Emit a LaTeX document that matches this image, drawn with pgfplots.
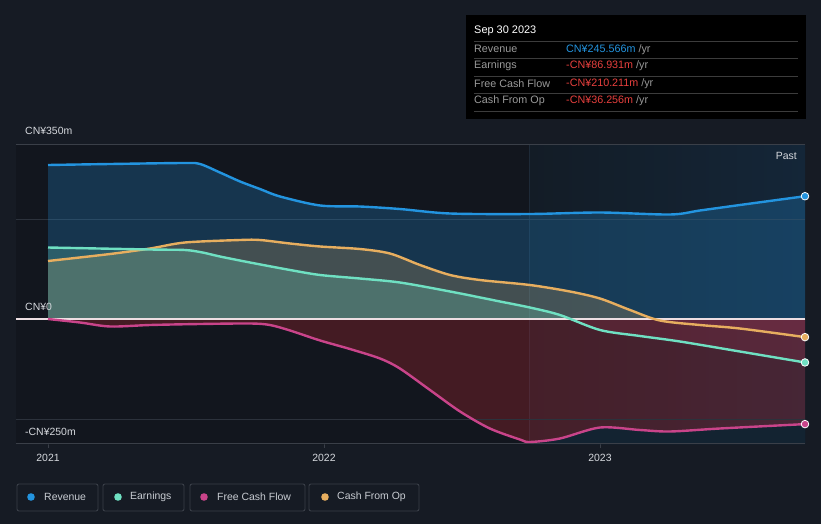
\documentclass[border=0pt]{standalone}
\usepackage{pgfplots}
\pgfplotsset{compat=1.18}
\usepackage{fontspec}
\setmainfont{Liberation Sans}

\definecolor{bg}{HTML}{161B24}
\definecolor{plotbg}{HTML}{12161E}
\definecolor{pastL}{HTML}{131C26}
\definecolor{pastR}{HTML}{142638}
\definecolor{pastM}{HTML}{132331}
\definecolor{pastline}{HTML}{1E2A38}
\definecolor{rev}{HTML}{2394DF}
\definecolor{ear}{HTML}{6FE0C2}
\definecolor{fcf}{HTML}{C9448A}
\definecolor{cfo}{HTML}{E7AE5F}
\definecolor{neg}{HTML}{C82832}
\definecolor{negp}{HTML}{D0406A}
\definecolor{gridc}{HTML}{2C323C}
\definecolor{axline}{HTML}{3A3F48}
\definecolor{lbl}{HTML}{D6D9DE}
\definecolor{tipgrey}{HTML}{9A9A9A}
\definecolor{tipred}{HTML}{E8403E}
\definecolor{tipline}{HTML}{3C3C3C}
\definecolor{legtext}{HTML}{C8CCD2}
\definecolor{zeroline}{HTML}{ECDEE2}

\pgfplotstableread{
x y
2021.000 308
2021.225 310
2021.496 312
2021.551 310
2021.623 293
2021.696 275
2021.768 260
2021.841 245
2021.986 227
2022.130 225
2022.275 220
2022.457 211
2022.746 210
2023.000 213
2023.254 209
2023.362 217
2023.507 228
2023.743 245.566
}\revtab

\pgfplotstableread{
x y
2021.000 143
2021.370 139
2021.496 138
2021.560 133
2021.623 125
2021.732 113
2021.877 98
2021.986 88
2022.130 81
2022.275 73
2022.457 55
2022.638 35
2022.746 23
2022.855 8
2023.000 -22
2023.145 -34
2023.290 -45
2023.507 -65
2023.743 -86.931
}\eartab

\pgfplotstableread{
x y
2021.000 116
2021.225 130
2021.370 141
2021.496 153
2021.696 158
2021.768 158
2021.877 151
2021.986 145
2022.130 140
2022.239 131
2022.348 108
2022.457 88
2022.565 78
2022.746 68
2022.891 55
2023.000 41
2023.109 18
2023.217 -3
2023.362 -12
2023.507 -19
2023.743 -36.256
}\cfotab

\pgfplotstableread{
x y
2021.000 0
2021.116 -7
2021.225 -15
2021.370 -12
2021.551 -10
2021.732 -9
2021.804 -12
2021.877 -23
2021.986 -43
2022.094 -60
2022.203 -79
2022.275 -99
2022.384 -142
2022.493 -185
2022.601 -219
2022.710 -241
2022.746 -246
2022.855 -239
2023.000 -217
2023.145 -222
2023.254 -225
2023.435 -219
2023.743 -210.211
}\fcftab

\begin{document}
\begin{tikzpicture}
\fill[bg] (0bp,0bp) rectangle (821bp,524bp);
\begin{axis}[
  at={(16bp,80bp)}, anchor=south west,
  scale only axis, width=789bp, height=300bp,
  xmin=2020.884, xmax=2023.743, ymin=-250, ymax=350,
  axis line style={draw=none},
  axis background/.style={fill=plotbg},
  ytick=\empty,
  xtick={2021,2022,2023}, xticklabels={2021,2022,2023},
  tick pos=bottom, tick align=outside, major tick length=4bp,
  tick style={axline, line width=0.8bp},
  xticklabel style={font=\fontsize{10.5}{12}\selectfont, text=lbl, yshift=-2.5bp},
  clip=false,
]
% past region
\fill[left color=pastL, right color=pastR] (axis cs:2022.746,-250) rectangle (axis cs:2023.743,350);
\draw[pastline, line width=0.8bp] (axis cs:2022.746,-250) -- (axis cs:2022.746,350);
% grid (upper)
\draw[gridc, line width=0.9bp] (axis cs:2020.884,200) -- (axis cs:2023.743,200);
\draw[axline, line width=1bp] (axis cs:2020.884,350) -- (axis cs:2023.743,350);

% revenue (all positive) and free cash flow (all negative): filled to zero
\addplot[fill=rev, fill opacity=0.25, draw=none, smooth] table[x=x,y=y] {\revtab} -- (axis cs:2023.743,0) -- (axis cs:2021,0) -- cycle;
\addplot[fill=neg, fill opacity=0.28, draw=none, smooth] table[x=x,y=y] {\fcftab} -- (axis cs:2023.743,0) -- cycle;
% earnings and cash from op: positive part
\begin{scope}
\clip (axis cs:2020.884,0) rectangle (axis cs:2023.743,350);
\addplot[fill=cfo, fill opacity=0.22, draw=none, smooth] table[x=x,y=y] {\cfotab} -- (axis cs:2023.743,0) -- (axis cs:2021,0) -- cycle;
\addplot[fill=ear, fill opacity=0.24, draw=none, smooth] table[x=x,y=y] {\eartab} -- (axis cs:2023.743,0) -- (axis cs:2021,0) -- cycle;
\end{scope}
% earnings and cash from op: negative part
\begin{scope}
\clip (axis cs:2020.884,-250) rectangle (axis cs:2023.743,0);
\addplot[fill=negp, fill opacity=0.13, draw=none, smooth] table[x=x,y=y] {\eartab} -- (axis cs:2023.743,0) -- (axis cs:2021,0) -- cycle;
\addplot[fill=negp, fill opacity=0.13, draw=none, smooth] table[x=x,y=y] {\cfotab} -- (axis cs:2023.743,0) -- (axis cs:2021,0) -- cycle;
\end{scope}
% keep the area below the free cash flow curve unfilled
\begin{scope}
\clip (axis cs:2020.884,-251) rectangle (axis cs:2022.746,0);
\addplot[fill=plotbg, draw=none, smooth] table[x=x,y=y] {\fcftab} -- (axis cs:2023.743,-251) -- (axis cs:2021,-251) -- cycle;
\end{scope}
\begin{scope}
\clip (axis cs:2022.750,-251) rectangle (axis cs:2023.743,0);
\addplot[fill=pastM, draw=none, smooth] table[x=x,y=y] {\fcftab} -- (axis cs:2023.743,-251) -- (axis cs:2021,-251) -- cycle;
\end{scope}
\fill[plotbg] (axis cs:2020.884,-251) rectangle (axis cs:2021,0);
% grid (lower)
\draw[gridc, line width=0.9bp] (axis cs:2020.884,-200) -- (axis cs:2023.743,-200);
\draw[axline, line width=1bp] (axis cs:2020.884,-250) -- (axis cs:2023.743,-250);

\draw[zeroline, line width=1.3bp] (axis cs:2020.884,0) -- (axis cs:2023.743,0);

\addplot[rev, line width=2.4bp, smooth] table[x=x,y=y] {\revtab};
\addplot[cfo, line width=2.4bp, smooth] table[x=x,y=y] {\cfotab};
\addplot[ear, line width=2.4bp, smooth] table[x=x,y=y] {\eartab};
\addplot[fcf, line width=2.4bp, smooth] table[x=x,y=y] {\fcftab};

\addplot[only marks, mark=*, mark size=3.8bp, mark options={fill=rev, draw=white, line width=0.8bp}] coordinates {(2023.743,245.566)};
\addplot[only marks, mark=*, mark size=3.8bp, mark options={fill=cfo, draw=white, line width=0.8bp}] coordinates {(2023.743,-36.256)};
\addplot[only marks, mark=*, mark size=3.8bp, mark options={fill=ear, draw=white, line width=0.8bp}] coordinates {(2023.743,-86.931)};
\addplot[only marks, mark=*, mark size=3.8bp, mark options={fill=fcf, draw=white, line width=0.8bp}] coordinates {(2023.743,-210.211)};

\node[anchor=west, text=lbl, font=\fontsize{10.5}{12}\selectfont, inner sep=0pt] at ([xshift=9bp, yshift=13bp]axis cs:2020.884,350) {CN¥350m};
\node[anchor=west, text=lbl, font=\fontsize{10.5}{12}\selectfont, inner sep=0pt] at ([xshift=9bp, yshift=12bp]axis cs:2020.884,0) {CN¥0};
\node[anchor=west, text=lbl, font=\fontsize{10.5}{12}\selectfont, inner sep=0pt] at ([xshift=9bp, yshift=12bp]axis cs:2020.884,-250) {-CN¥250m};
\node[anchor=east, text=lbl, font=\fontsize{10.5}{12}\selectfont, inner sep=0pt] at ([xshift=-8bp, yshift=-12bp]axis cs:2023.743,350) {Past};
\end{axis}

% tooltip
\fill[black] (466bp,405bp) rectangle (806bp,509bp);
\foreach \yy in {483,466,448,431,413} {\draw[tipline, line width=0.8bp] (474bp,\yy bp) -- (798bp,\yy bp);}
\node[anchor=west, inner sep=0pt, text=white, font=\fontsize{11}{13}\selectfont] at (474bp,493.3bp) {Sep 30 2023};
\begin{scope}[every node/.style={anchor=west, inner sep=0pt, font=\fontsize{10.8}{13}\selectfont}]
\node[text=tipgrey] at (474bp,474.7bp) {Revenue};
\node[text=tipgrey] at (474bp,458bp) {Earnings};
\node[text=tipgrey] at (474bp,440bp) {Free Cash Flow};
\node[text=tipgrey] at (474bp,423bp) {Cash From Op};
\node at (566bp,474.7bp) {\textcolor{rev}{CN¥245.566m} \textcolor{tipgrey}{/yr}};
\node at (566bp,458bp) {\textcolor{tipred}{-CN¥86.931m} \textcolor{tipgrey}{/yr}};
\node at (566bp,440bp) {\textcolor{tipred}{-CN¥210.211m} \textcolor{tipgrey}{/yr}};
\node at (566bp,423bp) {\textcolor{tipred}{-CN¥36.256m} \textcolor{tipgrey}{/yr}};
\end{scope}

% legend
\begin{scope}[every node/.style={anchor=west, inner sep=0pt, text=legtext, font=\fontsize{10.5}{12}\selectfont}]
\draw[axline, line width=0.9bp, rounded corners=2bp] (17bp,13bp) rectangle (98bp,40bp);
\fill[rev] (31bp,27bp) circle (3.8bp);
\node at (44bp,27bp) {Revenue};
\draw[axline, line width=0.9bp, rounded corners=2bp] (103bp,13bp) rectangle (184bp,40bp);
\fill[ear] (118bp,27bp) circle (3.8bp);
\node at (130bp,27bp) {Earnings};
\draw[axline, line width=0.9bp, rounded corners=2bp] (190bp,13bp) rectangle (305bp,40bp);
\fill[fcf] (204bp,27bp) circle (3.8bp);
\node at (217bp,27bp) {Free Cash Flow};
\draw[axline, line width=0.9bp, rounded corners=2bp] (309bp,13bp) rectangle (419bp,40bp);
\fill[cfo] (325bp,27bp) circle (3.8bp);
\node at (337bp,27bp) {Cash From Op};
\end{scope}
\end{tikzpicture}
\end{document}
